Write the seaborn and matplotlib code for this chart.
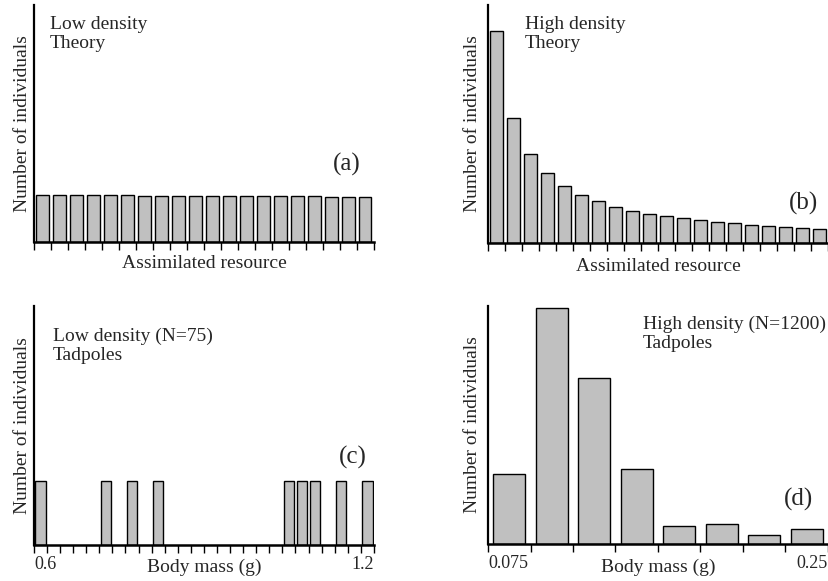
import numpy as np
import pandas as pd
import seaborn as sns
import matplotlib.pyplot as plt

# ── data ────────────────────────────────────────────────────────────────────
theoryBins = list(range(20))
lowTheory = [20.0, 20.0, 20.0, 20.0, 20.0, 20.0, 19.6, 19.6, 19.6, 19.6, 19.6,
             19.2, 19.2, 19.2, 19.2, 19.2, 19.2, 19.0, 19.0, 19.0]
highTheory = [89.1, 52.4, 37.5, 29.4, 24.1, 20.1, 17.5, 15.1, 13.6, 12.3,
              11.3, 10.5, 9.7, 8.8, 8.4, 7.6, 7.1, 6.9, 6.3, 6.0]

lowTadBins = list(range(26))
lowTadFilled = [0, 5, 7, 9, 19, 20, 21, 23, 25]
lowTadCounts = [1, 1, 1, 1, 1, 1, 1, 1, 1]

highTadBins = list(range(8))
highTadCounts = [138, 465, 327, 148, 35, 39, 18, 30]

lowTadTicks = ["0.6", "1.2"]
highTadTicks = ["0.075", "0.25"]

BAR_COLOR = "#c0c0c0"

sns.set_theme(style="white")
plt.rcParams['font.family'] = ['Liberation Serif', 'DejaVu Serif']

fig = plt.figure(figsize=(8.29, 5.81), dpi=100)
axA = fig.add_axes([0.041, 0.5835, 0.410, 0.408])
axB = fig.add_axes([0.5887, 0.5818, 0.410, 0.410])
axC = fig.add_axes([0.041, 0.062, 0.410, 0.411])
axD = fig.add_axes([0.5887, 0.0637, 0.410, 0.410])


def drawBars(ax, cats, vals, order, width):
    df = pd.DataFrame({"bin": [str(c) for c in cats], "n": vals})
    sns.barplot(data=df, x="bin", y="n", order=[str(o) for o in order], ax=ax,
                color=BAR_COLOR, saturation=1, width=width,
                edgecolor="black", linewidth=1.0)


def styleAxis(ax, nBins, ymax, edgeLabels=None):
    ax.set_xlim(-0.5, nBins - 0.5)
    ax.set_ylim(0, ymax)
    ax.set_yticks([])
    ax.set_xticks(np.arange(-0.5, nBins, 1.0))
    labels = [""] * (nBins + 1)
    if edgeLabels:
        labels[0], labels[-1] = edgeLabels
    ax.set_xticklabels(labels, fontsize=13)
    if edgeLabels:
        tl = ax.get_xticklabels()
        tl[0].set_horizontalalignment('left')
        tl[-1].set_horizontalalignment('right')
    ax.tick_params(axis='x', direction='out', length=6, width=1, color='black',
                   pad=2, bottom=True)
    for s in ['top', 'right']:
        ax.spines[s].set_visible(False)
    ax.spines['left'].set_linewidth(1.6)
    ax.spines['bottom'].set_linewidth(1.8)
    ax.spines['left'].set_color('black')
    ax.spines['bottom'].set_color('black')
    ax.set_ylabel("Number of individuals", fontsize=14, labelpad=2)


drawBars(axA, theoryBins, lowTheory, theoryBins, 0.72)
styleAxis(axA, 20, 100)
axA.set_xlabel("Assimilated resource", fontsize=14)
axA.xaxis.set_label_coords(0.5, -0.089)
axA.xaxis.label.set_va('center')
axA.text(0.047, 0.952, "Low density\nTheory", transform=axA.transAxes,
         fontsize=14, va='top', ha='left', linespacing=1.12)
axA.text(0.92, 0.325, "(a)", transform=axA.transAxes, fontsize=18,
         ha='center', va='center')

drawBars(axB, theoryBins, highTheory, theoryBins, 0.72)
styleAxis(axB, 20, 100)
axB.set_xlabel("Assimilated resource", fontsize=14)
axB.xaxis.set_label_coords(0.5, -0.097)
axB.xaxis.label.set_va('center')
axB.set_ylabel("Number of individuals", fontsize=14, labelpad=5)
axB.text(0.109, 0.952, "High density\nTheory", transform=axB.transAxes,
         fontsize=14, va='top', ha='left', linespacing=1.12)
axB.text(0.929, 0.168, "(b)", transform=axB.transAxes, fontsize=18,
         ha='center', va='center')

drawBars(axC, lowTadFilled, lowTadCounts, lowTadBins, 0.8)
styleAxis(axC, 26, 3.71, lowTadTicks)
axC.set_xlabel("Body mass (g)", fontsize=14)
axC.xaxis.set_label_coords(0.5, -0.092)
axC.xaxis.label.set_va('center')
axC.text(0.056, 0.91, "Low density (N=75)\nTadpoles", transform=axC.transAxes,
         fontsize=14, va='top', ha='left', linespacing=1.12)
axC.text(0.938, 0.368, "(c)", transform=axC.transAxes, fontsize=18,
         ha='center', va='center')

drawBars(axD, highTadBins, highTadCounts, highTadBins, 0.76)
styleAxis(axD, 8, 470, highTadTicks)
axD.set_xlabel("Body mass (g)", fontsize=14)
axD.xaxis.set_label_coords(0.5, -0.096)
axD.xaxis.label.set_va('center')
axD.set_ylabel("Number of individuals", fontsize=14, labelpad=5)
axD.text(0.456, 0.958, "High density (N=1200)\nTadpoles", transform=axD.transAxes,
         fontsize=14, va='top', ha='left', linespacing=1.12)
axD.text(0.912, 0.185, "(d)", transform=axD.transAxes, fontsize=18,
         ha='center', va='center')

fig.savefig("out.png", dpi=100)
